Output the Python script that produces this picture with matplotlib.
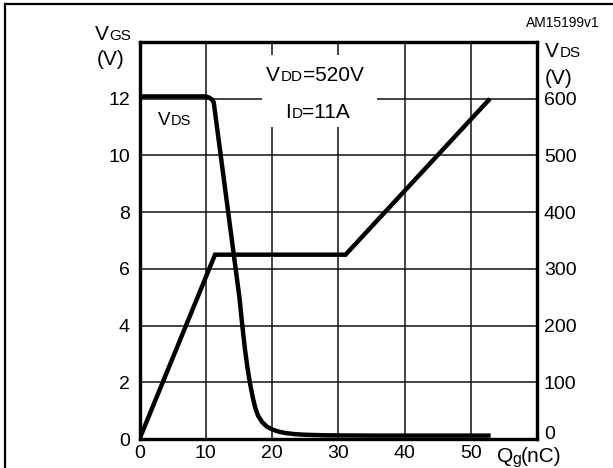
import matplotlib
matplotlib.use("Agg")
import matplotlib.pyplot as plt
from matplotlib.patches import Rectangle
from matplotlib.lines import Line2D

plt.rcParams['font.family'] = ['Liberation Sans', 'DejaVu Sans']

# ---- data ----
qg_vgs = [0, 11.4, 31.1, 52.9]
vgs = [0, 6.5, 6.5, 12.0]

qg_vds = [0, 10.0, 10.5, 10.9, 11.2, 15.1, 15.5, 15.9, 16.3, 16.7, 17.1, 17.5,
          17.9, 18.5, 19.2, 20.0, 21.0, 22.0, 23.5, 25, 28, 35, 45, 53]
vds = [604, 604, 602, 599, 594, 248, 202, 160, 125, 97, 73, 54,
       41, 30, 22, 17, 13, 10.5, 8.5, 7.5, 6.5, 6, 6, 6]

x_ticks = [0, 10, 20, 30, 40, 50, 60]
x_labels = ['0', '10', '20', '30', '40', '50', '']
yl_ticks = [0, 2, 4, 6, 8, 10, 12, 14]
yl_labels = ['0', '2', '4', '6', '8', '10', '12', '']
yr_ticks = [0, 100, 200, 300, 400, 500, 600, 700]
yr_labels = ['0', '100', '200', '300', '400', '500', '600', '']

W, H = 613, 468
fig = plt.figure(figsize=(W / 100, H / 100), dpi=100)
L, R, T, B = 139.5, 537, 42, 439
ax = fig.add_axes([L / W, 1 - B / H, (R - L) / W, (B - T) / H])
ax2 = ax.twinx()

ax.set_xlim(0, 60)
ax.set_ylim(0, 14)
ax2.set_ylim(0, 700)

ax.set_xticks(x_ticks)
ax.set_xticklabels(x_labels)
ax.set_yticks(yl_ticks)
ax.set_yticklabels(yl_labels)
ax2.set_yticks(yr_ticks)
ax2.set_yticklabels(yr_labels)

ax.tick_params(axis='both', length=0, labelsize=14)
ax.tick_params(axis='y', pad=7)
ax.tick_params(axis='x', pad=4)
ax2.tick_params(axis='y', length=0, labelsize=14, pad=5)
ax2.get_yticklabels()[0].set_verticalalignment('baseline')

ax.grid(True, color='#111111', linewidth=1.1, zorder=1)
ax.set_axisbelow(True)
for a in (ax, ax2):
    for s in a.spines.values():
        s.set_linewidth(2.3)
        s.set_color('black')

# white box behind conditions text
ax.add_patch(Rectangle((18.5, 11.0), 17.3, 2.54, facecolor='white',
                       edgecolor='none', zorder=2))

ax.plot(qg_vgs, vgs, color='black', linewidth=3.2, zorder=3,
        solid_joinstyle='miter', solid_capstyle='butt')
ax2.plot(qg_vds, vds, color='black', linewidth=3.2, zorder=3,
         solid_capstyle='butt')


def P(x, y):
    return (x / W, 1 - y / H)


def subtext(x, y, main, sub, size=15, subsize=11, sub_drop=0.0, dx=0.5):
    t = fig.text(*P(x, y), main, fontsize=size, ha='left', va='baseline')
    d = 0.21 * (size - subsize) - sub_drop
    s = ax.annotate(sub, xy=(1, 0), xycoords=t, xytext=(dx, d),
                    textcoords='offset points', fontsize=subsize,
                    ha='left', va='bottom', annotation_clip=False)
    return t, s


def after(artist, text, size, dy):
    return ax.annotate(text, xy=(1, 0), xycoords=artist, xytext=(0, dy),
                       textcoords='offset points', fontsize=size, ha='left',
                       va='bottom', annotation_clip=False)


# axis labels
subtext(95, 40, 'V', 'GS')
fig.text(*P(97, 65), '(V)', fontsize=15, ha='left', va='baseline')
subtext(545, 57, 'V', 'DS')
fig.text(*P(545, 84), '(V)', fontsize=15, ha='left', va='baseline')
t, s = subtext(497, 462, 'Q', 'g', size=15, subsize=11.5, sub_drop=1.5, dx=-0.8)
after(s, '(nC)', 15, -0.21 * (15 - 11.5) + 1.5)

fig.text(*P(600, 27), 'AM15199v1', fontsize=10, ha='right', va='baseline')

# inside texts
subtext(158, 125, 'V', 'DS', size=13.5, subsize=10.5)
t1, s1 = subtext(266, 81, 'V', 'DD')
after(s1, '=520V', 15, -0.21 * (15 - 11))
t2, s2 = subtext(285, 118, 'I', 'D')
after(s2, '=11A', 15, -0.21 * (15 - 11))

# outer frame (left and top edges)
fig.add_artist(Line2D([5 / W, 5 / W], [0, 1 - 4 / H], transform=fig.transFigure,
                      color='black', linewidth=1.6))
fig.add_artist(Line2D([5 / W, 1], [1 - 4 / H, 1 - 4 / H], transform=fig.transFigure,
                      color='black', linewidth=1.6))

fig.savefig('out.png', dpi=100)
